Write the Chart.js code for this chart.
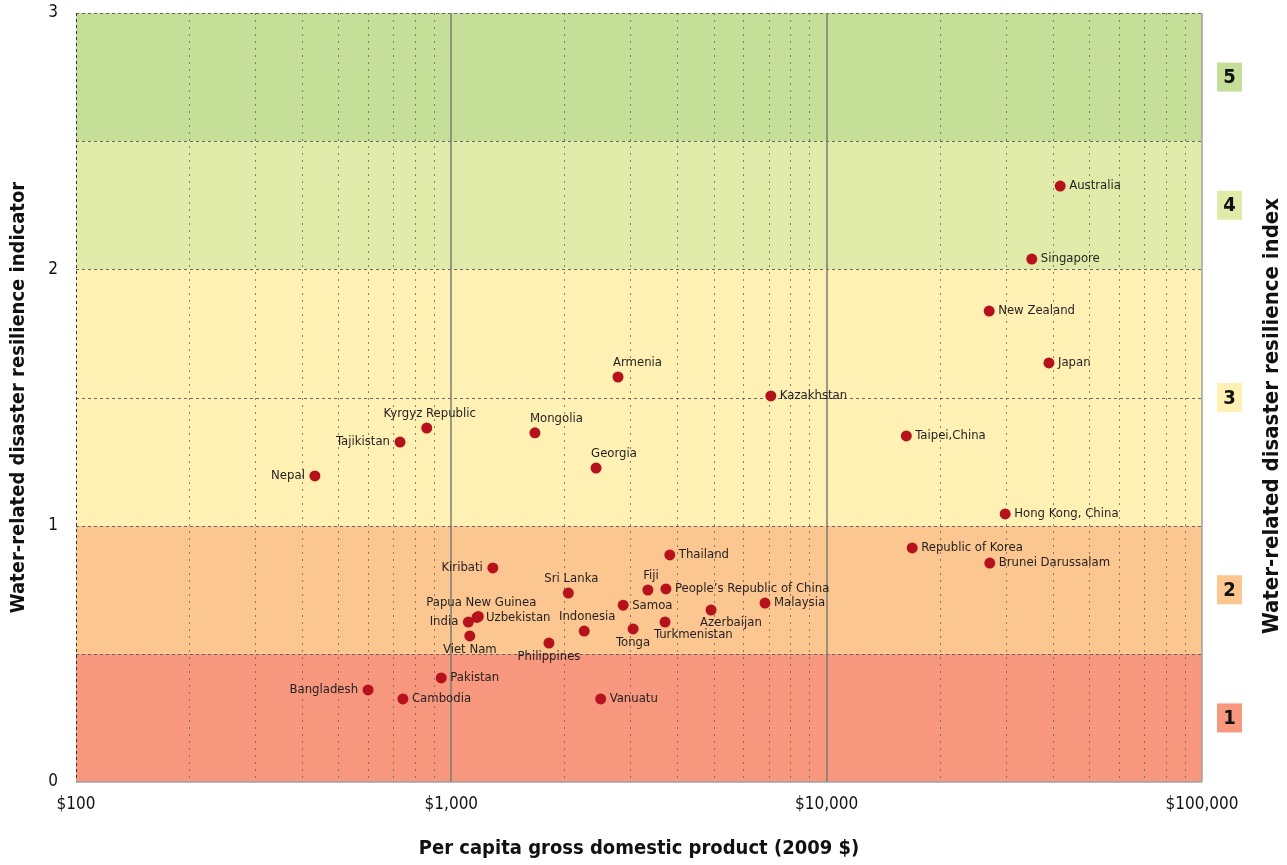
<!DOCTYPE html>
<html>
<head>
<meta charset="utf-8">
<script src="https://cdn.jsdelivr.net/npm/chart.js@4.4.0/dist/chart.umd.min.js"></script>
<style>
  body { margin: 0; background: #fff; }
  #wrap { width: 1287px; height: 865px; position: relative; }
</style>
</head>
<body>
<div id="wrap"><canvas id="resilience"></canvas></div>
<script>
// values
var countries = ['Australia', 'Singapore', 'New Zealand', 'Japan', 'Kazakhstan', 'Taipei,China',
    'Hong Kong, China', 'Republic of Korea', 'Brunei Darussalam', 'Armenia', 'Mongolia', 'Georgia',
    'Kyrgyz Republic', 'Tajikistan', 'Nepal', 'Thailand', 'Kiribati', 'Sri Lanka', 'Fiji',
    'People\u2019s Republic of China', 'Samoa', 'Azerbaijan', 'Malaysia', 'Papua New Guinea', 'India',
    'Uzbekistan', 'Viet Nam', 'Indonesia', 'Philippines', 'Tonga', 'Turkmenistan', 'Pakistan',
    'Cambodia', 'Vanuatu', 'Bangladesh'];
var gdpPerCapita = [41900, 35200, 27100, 39100, 7100, 16300,
    29900, 16900, 27200, 2780, 1670, 2430,
    860, 730, 433, 3820, 1290, 2050, 3340,
    3730, 2870, 4920, 6850, 1180, 1110,
    1170, 1120, 2260, 1820, 3050, 3710, 940,
    743, 2500, 600];
var resilience = [2.325, 2.04, 1.837, 1.635, 1.506, 1.35,
    1.046, 0.913, 0.854, 1.58, 1.362, 1.225,
    1.381, 1.326, 1.194, 0.886, 0.835, 0.737, 0.749,
    0.753, 0.69, 0.671, 0.698, 0.646, 0.624,
    0.642, 0.57, 0.589, 0.542, 0.597, 0.624, 0.406,
    0.324, 0.324, 0.359];
// where each name sits next to its dot
var labelSide = ['r', 'r', 'r', 'r', 'r', 'r',
    'r', 'r', 'r', 'tr', 'tr', 'tr',
    't', 'l', 'l', 'r', 'l', 't', 't',
    'r', 'r', 'br', 'r', 't', 'l',
    'r', 'b', 't', 'b', 'b', 'br', 'r',
    'r', 'r', 'l'];

var bandLimits = [0, 0.5, 1, 2, 2.5, 3];
var bandColors = ['#f6977e', '#fbc690', '#fff0b4', '#e0eaa9', '#c5de98'];
var indexLabels = ['1', '2', '3', '4', '5'];
var xTickValues = [100, 1000, 10000, 100000];
var xTickLabels = ['$100', '$1,000', '$10,000', '$100,000'];
var yTickLabels = ['0', '1', '2', '3'];

var fontFamily = "'Liberation Sans Narrow', 'DejaVu Sans Condensed', 'Noto Sans', sans-serif";

var points = [];
for (var i = 0; i < countries.length; i++) {
    points.push({x: gdpPerCapita[i], y: resilience[i]});
}

function hline(ctx, x1, x2, y) {
    ctx.beginPath(); ctx.moveTo(x1, y); ctx.lineTo(x2, y); ctx.stroke();
}
function vline(ctx, x, y1, y2) {
    ctx.beginPath(); ctx.moveTo(x, y1); ctx.lineTo(x, y2); ctx.stroke();
}

var backdrop = {
    id: 'backdrop',
    beforeDatasetsDraw: function(chart) {
        var ctx = chart.ctx, xs = chart.scales.x, ys = chart.scales.y, a = chart.chartArea;
        ctx.save();
        for (var i = 0; i < bandColors.length; i++) {
            var top = ys.getPixelForValue(bandLimits[i + 1]);
            var bottom = ys.getPixelForValue(bandLimits[i]);
            ctx.fillStyle = bandColors[i];
            ctx.fillRect(a.left, top, a.right - a.left, bottom - top);
        }
        // minor log lines, dotted
        ctx.strokeStyle = 'rgba(95,95,90,0.75)';
        ctx.lineWidth = 1;
        ctx.setLineDash([2, 5]);
        for (var d = 100; d < 100000; d *= 10) {
            for (var m = 2; m <= 9; m++) {
                vline(ctx, Math.round(xs.getPixelForValue(d * m)) + 0.5, a.top, a.bottom);
            }
        }
        // horizontal dashed lines every half unit
        ctx.strokeStyle = 'rgba(90,90,85,0.9)';
        ctx.setLineDash([3, 3]);
        for (var v = 0.5; v <= 3; v += 0.5) {
            hline(ctx, a.left, a.right, Math.round(ys.getPixelForValue(v)) + 0.5);
        }
        // left border dashed
        ctx.strokeStyle = '#333';
        ctx.setLineDash([3, 3]);
        vline(ctx, a.left + 0.5, a.top, a.bottom);
        // decade lines solid
        ctx.setLineDash([]);
        ctx.strokeStyle = '#7b7b72';
        ctx.lineWidth = 1.5;
        vline(ctx, Math.round(xs.getPixelForValue(1000)), a.top, a.bottom);
        vline(ctx, Math.round(xs.getPixelForValue(10000)), a.top, a.bottom);
        ctx.strokeStyle = '#a0a0a0';
        vline(ctx, a.right, a.top, a.bottom);
        hline(ctx, a.left, a.right, a.bottom);
        ctx.restore();
    },
    afterDatasetsDraw: function(chart) {
        var ctx = chart.ctx;
        var meta = chart.getDatasetMeta(0);
        ctx.save();
        ctx.font = '13px ' + fontFamily;
        ctx.fillStyle = '#231f20';
        ctx.textBaseline = 'middle';
        for (var i = 0; i < meta.data.length; i++) {
            var p = meta.data[i], s = labelSide[i];
            if (s == 'r') { ctx.textAlign = 'left'; ctx.fillText(countries[i], p.x + 9, p.y); }
            else if (s == 'l') { ctx.textAlign = 'right'; ctx.fillText(countries[i], p.x - 10, p.y); }
            else if (s == 't') { ctx.textAlign = 'center'; ctx.fillText(countries[i], p.x + 3, p.y - 14); }
            else if (s == 'b') { ctx.textAlign = 'center'; ctx.fillText(countries[i], p.x, p.y + 14); }
            else if (s == 'tr') { ctx.textAlign = 'left'; ctx.fillText(countries[i], p.x - 5, p.y - 14); }
            else if (s == 'br') { ctx.textAlign = 'left'; ctx.fillText(countries[i], p.x - 11, p.y + 13); }
        }
        ctx.restore();
    },
    afterDraw: function(chart) {
        var ctx = chart.ctx, ys = chart.scales.y, a = chart.chartArea;
        var midY = (a.top + a.bottom) / 2;
        ctx.save();
        // index boxes on the right
        ctx.font = 'bold 20px ' + fontFamily;
        ctx.textAlign = 'center';
        ctx.textBaseline = 'middle';
        for (var i = 0; i < indexLabels.length; i++) {
            var cy = ys.getPixelForValue((bandLimits[i] + bandLimits[i + 1]) / 2);
            ctx.fillStyle = bandColors[i];
            ctx.fillRect(a.right + 15, cy - 14.5, 25, 29);
            ctx.fillStyle = '#111';
            ctx.fillText(indexLabels[i], a.right + 27.5, cy + 1);
        }
        // axis titles
        ctx.font = 'bold 20px ' + fontFamily;
        ctx.fillStyle = '#111';
        ctx.fillText('Per capita gross domestic product (2009 $)', (a.left + a.right) / 2, 849);
        ctx.translate(19, midY);
        ctx.rotate(-Math.PI / 2);
        ctx.fillText('Water-related disaster resilience indicator', 0, 0);
        ctx.restore();
        ctx.save();
        ctx.font = 'bold 22px ' + fontFamily;
        ctx.fillStyle = '#111';
        ctx.textAlign = 'center';
        ctx.textBaseline = 'middle';
        ctx.translate(1272, 416);
        ctx.rotate(-Math.PI / 2);
        ctx.fillText('Water-related disaster resilience index', 0, 0);
        ctx.restore();
    }
};

function noPad(scale) {
    scale.paddingTop = 0;
    scale.paddingBottom = 0;
    scale.paddingLeft = 0;
    scale.paddingRight = 0;
}

var el = document.getElementById('resilience');
var resilienceChart = new Chart(el, {
    type: 'scatter',
    data: {
        datasets: [{
            label: 'Economies',
            data: points,
            backgroundColor: '#b5121b',
            borderWidth: 0,
            pointRadius: 5.5,
            pointHoverRadius: 5.5
        }]
    },
    options: {
        responsive: true,
        maintainAspectRatio: false,
        animation: false,
        layout: { padding: { left: 0, right: 85, top: 13, bottom: 0 } },
        plugins: { legend: { display: false }, tooltip: { enabled: false } },
        scales: {
            x: {
                type: 'logarithmic',
                min: 100,
                max: 100000,
                grid: { display: false },
                border: { display: false },
                ticks: {
                    autoSkip: false,
                    maxRotation: 0,
                    padding: 4,
                    color: '#111',
                    font: { family: fontFamily, size: 17 },
                    callback: function(value) {
                        var k = xTickValues.indexOf(value);
                        return k >= 0 ? xTickLabels[k] : '';
                    }
                },
                afterFit: function(scale) { scale.height = 83; noPad(scale); }
            },
            y: {
                min: 0,
                max: 3,
                grid: { display: false },
                border: { display: false },
                ticks: {
                    stepSize: 1,
                    padding: 10,
                    color: '#111',
                    font: { family: fontFamily, size: 17 },
                    callback: function(value) {
                        return yTickLabels[value] || '';
                    }
                },
                afterFit: function(scale) { scale.width = 76; noPad(scale); }
            }
        }
    },
    plugins: [backdrop]
});
</script>
</body>
</html>
